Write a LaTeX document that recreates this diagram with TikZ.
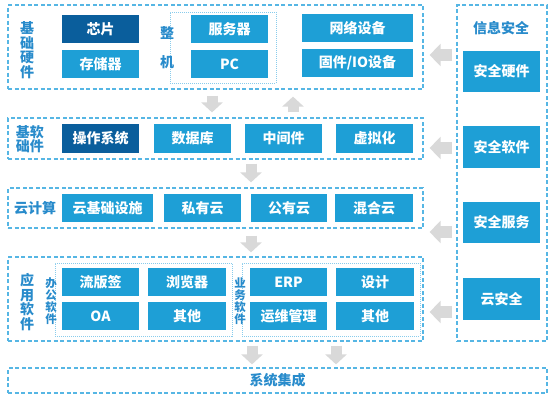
\documentclass[tikz,border=0pt]{standalone}
\usepackage{fontspec}
\setmainfont{Noto Sans CJK SC}
\usetikzlibrary{arrows.meta}
\definecolor{boxblue}{RGB}{30,159,214}
\definecolor{darkblue}{RGB}{10,94,156}
\definecolor{lineblue}{RGB}{86,182,228}
\definecolor{textblue}{RGB}{40,139,203}
\definecolor{arrowgray}{RGB}{217,217,217}
\begin{document}
\begin{tikzpicture}[x=1pt,y=-1pt,
  item/.style={fill=boxblue,text=white,inner sep=0pt,minimum width=77pt,minimum height=28pt,
    font=\bfseries\fontsize{14}{14}\selectfont},
  darkitem/.style={item,fill=darkblue},
  frame/.style={draw=lineblue,line width=1.2pt,dash pattern=on 4pt off 2.5pt,inner sep=0pt},
  subframe/.style={draw=lineblue!70,line width=0.9pt,dash pattern=on 1pt off 1pt,inner sep=0pt},
  tag/.style={text=textblue,inner sep=0pt,align=center,font=\bfseries\fontsize{14}{14.5}\selectfont},
  smalltag/.style={tag,font=\bfseries\fontsize{11.5}{12}\selectfont},
  garrow/.style={draw=arrowgray,line width=11pt,-{Triangle[length=10pt,width=21pt,fill=arrowgray]}},
  larrow/.style={draw=arrowgray,line width=12pt,-{Triangle[length=11pt,width=22pt,fill=arrowgray]}}]
\useasboundingbox (0,0) rectangle (554,400);
% frames
\node[frame,minimum width=415pt,minimum height=84pt] (hwframe) at (215.5,47) {};
\node[subframe,minimum width=106pt,minimum height=71pt] (pcframe) at (223,47.5) {};
\node[frame,minimum width=415pt,minimum height=41pt] (swframe) at (215.5,138.5) {};
\node[frame,minimum width=415pt,minimum height=40pt] (cloudframe) at (215.5,208) {};
\node[frame,minimum width=415pt,minimum height=84pt] (appframe) at (215.5,299) {};
\node[subframe,minimum width=177pt,minimum height=73pt] (officeframe) at (143.5,299.5) {};
\node[subframe,minimum width=178pt,minimum height=73pt] (bizframe) at (331,299.5) {};
\node[frame,minimum width=90pt,minimum height=336pt] (secframe) at (502,173) {};
\node[frame,minimum width=539pt,minimum height=25pt] (intframe) at (277.5,380.5) {};
% hardware
\node[tag] (hwtag) at (27,50) {基\\础\\硬\\件};
\node[darkitem] (chip) at (100.5,29) {芯片};
\node[item] (storage) at (100.5,64) {存储器};
\node[tag] (zheng) at (167,33) {整};
\node[tag] (ji) at (167,62) {机};
\node[item] (server) at (229.5,29) {服务器};
\node[item] (pc) at (229.5,64) {PC};
\node[item,minimum width=111pt] (net) at (357.5,28) {网络设备};
\node[item,minimum width=111pt] (io) at (357.5,63) {固件/IO设备};
% software
\node[tag] (swtag) at (30,139) {基软\\础件};
\node[darkitem,minimum height=29pt] (os) at (100.5,138.5) {操作系统};
\node[item,minimum height=29pt] (db) at (192.5,138.5) {数据库};
\node[item,minimum height=29pt] (mw) at (283.5,138.5) {中间件};
\node[item,minimum height=29pt] (virt) at (374.5,138.5) {虚拟化};
% cloud
\node[tag] (cloudtag) at (35,208) {云计算};
\node[item,minimum width=91pt] (infra) at (107.5,208) {云基础设施};
\node[item] (private) at (202.5,208) {私有云};
\node[item,minimum width=76pt] (public) at (289,208) {公有云};
\node[item,minimum width=78pt] (hybrid) at (374,208) {混合云};
% applications
\node[tag] (apptag) at (27,302) {应\\用\\软\\件};
\node[smalltag] (officetag) at (51,301) {办\\公\\软\\件};
\node[item] (layout) at (100.5,282) {流版签};
\node[item,minimum width=78pt] (browser) at (187,282) {浏览器};
\node[item] (oa) at (100.5,316) {OA};
\node[item,minimum width=78pt] (other1) at (187,316) {其他};
\node[smalltag] (biztag) at (240,301) {业\\务\\软\\件};
\node[item] (erp) at (288.5,282) {ERP};
\node[item,minimum width=78pt] (design) at (375,282) {设计};
\node[item] (ops) at (288.5,316) {运维管理};
\node[item,minimum width=78pt] (other2) at (375,316) {其他};
% security
\node[tag] (sectag) at (501,28) {信息安全};
\node[item,minimum height=41pt] (sechw) at (501.5,71.5) {安全硬件};
\node[item,minimum height=42pt] (secsw) at (501.5,147) {安全软件};
\node[item,minimum height=41pt] (secsv) at (501.5,222.5) {安全服务};
\node[item,minimum height=42pt] (seccloud) at (501.5,299) {云安全};
% integration
\node[tag] (inttag) at (intframe) {系统集成};
% arrows
\draw[garrow,shorten <=6pt,shorten >=5pt] (212,0 |- hwframe.south) -- (212,0 |- swframe.north);
\draw[garrow,shorten <=5pt,shorten >=7pt] (293,0 |- swframe.north) -- (293,0 |- hwframe.south);
\draw[garrow,shorten <=4pt,shorten >=5pt] (251,0 |- swframe.south) -- (251,0 |- cloudframe.north);
\draw[garrow,shorten <=7pt,shorten >=4pt] (251,0 |- cloudframe.south) -- (251,0 |- appframe.north);
\draw[garrow,shorten <=4pt,shorten >=3pt] (252,0 |- appframe.south) -- (252,0 |- intframe.north);
\draw[garrow,shorten <=4pt,shorten >=3pt] (336,0 |- appframe.south) -- (336,0 |- intframe.north);
\draw[larrow,shorten <=4pt,shorten >=6pt] (secframe.west |- 0,55) -- (hwframe.east |- 0,55);
\draw[larrow,shorten <=4pt,shorten >=6pt] (secframe.west |- 0,148) -- (swframe.east |- 0,148);
\draw[larrow,shorten <=4pt,shorten >=6pt] (secframe.west |- 0,232) -- (cloudframe.east |- 0,232);
\draw[larrow,shorten <=4pt,shorten >=6pt] (secframe.west |- 0,312) -- (appframe.east |- 0,312);
\end{tikzpicture}
\end{document}
